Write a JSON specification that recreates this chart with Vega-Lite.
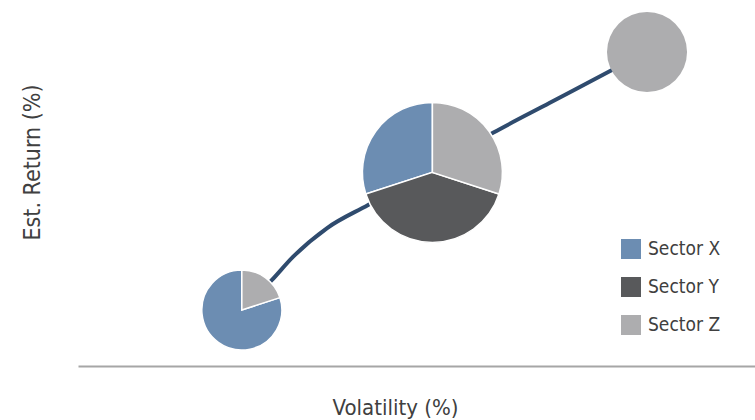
{
  "$schema": "https://vega.github.io/schema/vega-lite/v6.json",
  "width": 677,
  "height": 366,
  "autosize": "none",
  "padding": {"left": 78, "top": 0, "right": 0, "bottom": 54},
  "background": "white",
  "config": {
    "view": {"stroke": null},
    "font": "DejaVu Sans Condensed, Roboto, sans-serif"
  },
  "datasets": {
    "frontier": [
      {"vol": 4.84, "ret": 1.53},
      {"vol": 5.73, "ret": 2.35},
      {"vol": 6.35, "ret": 2.98},
      {"vol": 7.36, "ret": 3.77},
      {"vol": 8.57, "ret": 4.40},
      {"vol": 10.4, "ret": 5.35},
      {"vol": 12.26, "ret": 6.37},
      {"vol": 13.94, "ret": 7.19},
      {"vol": 15.72, "ret": 8.06},
      {"vol": 16.81, "ret": 8.58}
    ],
    "pies": [
      {"pie": "A", "vol": 4.84, "ret": 1.53, "weight": 1, "sector": "Sector X", "share": 80},
      {"pie": "A", "vol": 4.84, "ret": 1.53, "weight": 1, "sector": "Sector Y", "share": 0},
      {"pie": "A", "vol": 4.84, "ret": 1.53, "weight": 1, "sector": "Sector Z", "share": 20},
      {"pie": "B", "vol": 10.47, "ret": 5.29, "weight": 3.06, "sector": "Sector X", "share": 30},
      {"pie": "B", "vol": 10.47, "ret": 5.29, "weight": 3.06, "sector": "Sector Y", "share": 40},
      {"pie": "B", "vol": 10.47, "ret": 5.29, "weight": 3.06, "sector": "Sector Z", "share": 30},
      {"pie": "C", "vol": 16.81, "ret": 8.58, "weight": 1, "sector": "Sector X", "share": 0},
      {"pie": "C", "vol": 16.81, "ret": 8.58, "weight": 1, "sector": "Sector Y", "share": 0},
      {"pie": "C", "vol": 16.81, "ret": 8.58, "weight": 1, "sector": "Sector Z", "share": 100}
    ]
  },
  "encoding": {
    "x": {
      "field": "vol", "type": "quantitative",
      "scale": {"domain": [0, 20], "nice": false, "zero": false},
      "axis": {
        "title": "Volatility (%)",
        "domain": true, "domainColor": "#A6A6A6", "domainWidth": 2,
        "ticks": false, "labels": false, "grid": false,
        "titleFont": "DejaVu Sans Condensed, Roboto, sans-serif", "titleFontSize": 22, "titleFontWeight": "normal",
        "titleColor": "#404040",
        "titleX": 317, "titleY": 48, "titleBaseline": "alphabetic", "titleAlign": "center"
      }
    },
    "y": {
      "field": "ret", "type": "quantitative",
      "scale": {"domain": [0, 10], "nice": false, "zero": false},
      "axis": {
        "title": "Est. Return (%)",
        "domain": false, "ticks": false, "labels": false, "grid": false,
        "titleFont": "DejaVu Sans Condensed, Roboto, sans-serif", "titleFontSize": 23, "titleFontWeight": "normal",
        "titleColor": "#404040", "titleAngle": -90,
        "titleX": -46, "titleY": 162, "titleBaseline": "middle", "titleAlign": "center"
      }
    }
  },
  "layer": [
    {
      "data": {"name": "frontier"},
      "mark": {"type": "line", "interpolate": "monotone", "color": "#2F4B6E", "strokeWidth": 4},
      "encoding": {}
    },
    {
      "data": {"name": "pies"},
      "transform": [
        {"filter": "datum.share > 0"},
        {"stack": "share", "groupby": ["pie"], "offset": "normalize", "as": ["t0", "t1"],
         "sort": [{"field": "sector", "order": "descending"}]}
      ],
      "mark": {"type": "arc", "stroke": "white"},
      "encoding": {
        "theta": {"field": "t0", "type": "quantitative", "scale": {"domain": [0, 1], "range": [0, 6.283185]}},
        "theta2": {"field": "t1"},
        "radius": {"field": "weight", "type": "quantitative", "scale": {"type": "sqrt", "domain": [0, 3.06], "range": [0, 70]}, "legend": null},
        "strokeWidth": {"condition": {"test": "datum.share >= 100", "value": 0}, "value": 1.5},
        "color": {
          "field": "sector", "type": "nominal",
          "scale": {"domain": ["Sector X", "Sector Y", "Sector Z"], "range": ["#6C8DB2", "#58595B", "#ADADAF"]},
          "legend": {
            "title": null, "orient": "none", "legendX": 543, "legendY": 239,
            "symbolType": "square", "symbolSize": 400, "symbolStrokeWidth": 0,
            "symbolOpacity": 1,
            "labelFont": "DejaVu Sans Condensed, Roboto, sans-serif", "labelFontSize": 19, "labelColor": "#404040",
            "labelOffset": 7, "rowPadding": 18, "padding": 0
          }
        }
      }
    }
  ]
}
